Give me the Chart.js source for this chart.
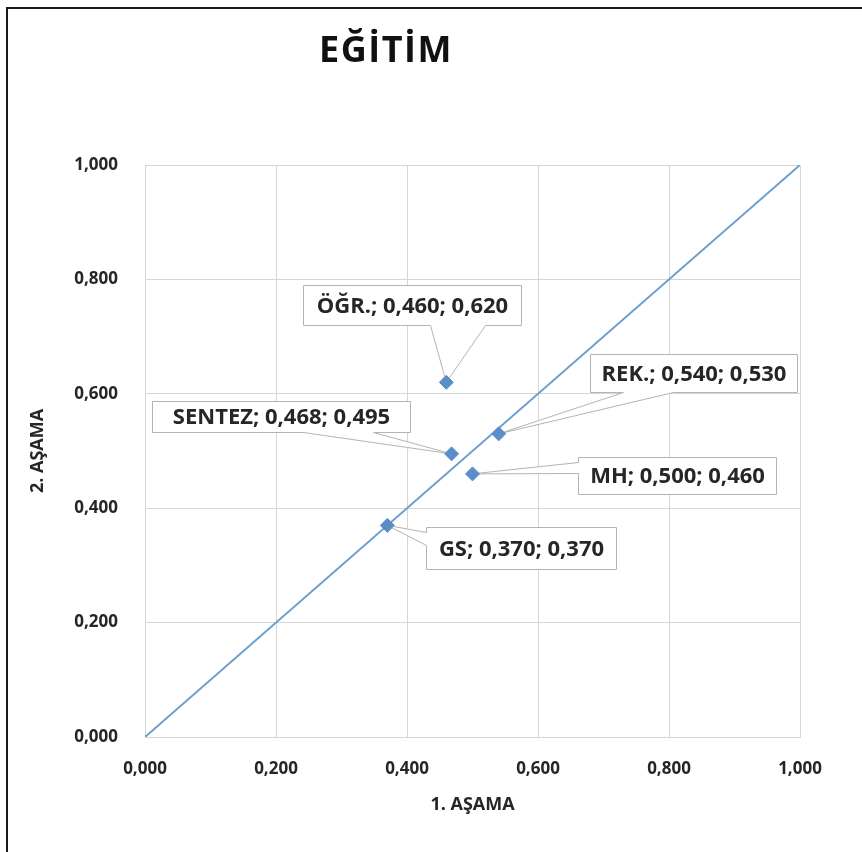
<!DOCTYPE html>
<html>
<head>
<meta charset="utf-8">
<script src="https://cdn.jsdelivr.net/npm/chart.js@4"></script>
<style>
  html, body { margin: 0; padding: 0; background: #fff; }
  canvas { display: block; }
</style>
</head>
<body>
<canvas id="chart" width="862" height="852"></canvas>
<script>
// data
const labels = ["ÖĞR.", "SENTEZ", "REK.", "MH", "GS"];
const stage1 = [0.460, 0.468, 0.540, 0.500, 0.370];
const stage2 = [0.620, 0.495, 0.530, 0.460, 0.370];
const refLine = [{ x: 0, y: 0 }, { x: 1, y: 1 }];
const tickValues = [0, 0.2, 0.4, 0.6, 0.8, 1];

// callout boxes, relative to the marker pixel (layout only)
// box: dx, dy, w, h ; side + wedge base offsets along that side
const callouts = [
  { dx: -143, dy: -97, w: 218, h: 40, side: "bottom", a: 127, b: 182 },
  { dx: -300, dy: -53, w: 258, h: 31, side: "bottom", a: 151, b: 221 },
  { dx: 91, dy: -80, w: 207, h: 38, side: "bottom", a: 33, b: 83 },
  { dx: 105, dy: -17, w: 198, h: 37, side: "left", a: 5, b: 16 },
  { dx: 39, dy: 2, w: 190, h: 42, side: "left", a: 5, b: 18 }
];

const fmt = v => Number(v).toFixed(3).replace(".", ",");

const frame = {
  id: "frame",
  beforeDraw(chart) {
    const ctx = chart.ctx;
    ctx.save();
    ctx.fillStyle = "#fff";
    ctx.fillRect(0, 0, chart.width, chart.height);
    ctx.fillStyle = "#1a1a1a";
    ctx.fillRect(6, 7, 2, chart.height - 7);
    ctx.fillRect(6, 7, chart.width - 6, 2);
    // title
    ctx.fillStyle = "#111";
    ctx.font = "bold 36px 'Open Sans'";
    ctx.letterSpacing = "1.5px";
    ctx.textAlign = "center";
    ctx.textBaseline = "alphabetic";
    ctx.fillText("EĞİTİM", 386, 62);
    ctx.restore();
  }
};

const calloutPlugin = {
  id: "callouts",
  beforeDatasetsDraw(chart) {
    const ctx = chart.ctx;
    const xs = chart.scales.x, ys = chart.scales.y;
    ctx.save();
    labels.forEach((name, i) => {
      const c = callouts[i];
      const px = xs.getPixelForValue(stage1[i]);
      const py = ys.getPixelForValue(stage2[i]);
      const l = Math.round(px + c.dx) + 0.5, t = Math.round(py + c.dy) + 0.5;
      const r = l + c.w, btm = t + c.h;
      ctx.beginPath();
      ctx.moveTo(l, t);
      ctx.lineTo(r, t);
      ctx.lineTo(r, btm);
      if (c.side === "bottom") {
        ctx.lineTo(l + c.b, btm);
        ctx.lineTo(px, py);
        ctx.lineTo(l + c.a, btm);
        ctx.lineTo(l, btm);
      } else {
        ctx.lineTo(l, btm);
        ctx.lineTo(l, t + c.b);
        ctx.lineTo(px, py);
        ctx.lineTo(l, t + c.a);
      }
      ctx.closePath();
      ctx.fillStyle = "#fff";
      ctx.fill();
      ctx.strokeStyle = "#b4b4b4";
      ctx.lineWidth = 1;
      ctx.stroke();

      ctx.fillStyle = "#262626";
      ctx.font = "bold 22px 'Open Sans'";
      ctx.textAlign = "center";
      ctx.textBaseline = "middle";
      ctx.fillText(name + "; " + fmt(stage1[i]) + "; " + fmt(stage2[i]), l + c.w / 2, t + c.h / 2 + 1);
    });
    ctx.restore();
  }
};

const tickFont = { family: "'Open Sans'", size: 17, weight: "bold" };
const titleFont = { family: "'Open Sans'", size: 18, weight: "bold" };

new Chart(document.getElementById("chart"), {
  type: "scatter",
  data: {
    datasets: [
      {
        label: "EĞİTİM",
        data: stage1.map((x, i) => ({ x, y: stage2[i] })),
        pointStyle: "rectRot",
        pointRadius: 7,
        backgroundColor: "#5b8ec9",
        borderColor: "#5b8ec9",
        borderWidth: 1
      },
      {
        type: "line",
        label: "ref",
        data: refLine,
        borderColor: "#6a9fcf",
        borderWidth: 2,
        pointRadius: 0,
        fill: false
      }
    ]
  },
  options: {
    responsive: false,
    animation: false,
    layout: { padding: { left: 0, top: 165, right: 62, bottom: 0 } },
    plugins: { legend: { display: false }, tooltip: { enabled: false } },
    scales: {
      x: {
        type: "linear",
        min: 0, max: 1,
        afterFit: s => { s.height = 115; },
        afterBuildTicks: s => { s.ticks = tickValues.map(v => ({ value: v })); },
        grid: { color: "#d6d6d6", drawTicks: false },
        border: { color: "#d6d6d6" },
        ticks: { color: "#262626", font: tickFont, padding: 22, callback: fmt, maxRotation: 0 },
        title: { display: true, text: "1. AŞAMA", color: "#262626", font: titleFont, padding: { top: 0, bottom: 36 } }
      },
      y: {
        type: "linear",
        min: 0, max: 1,
        afterFit: s => { s.width = 145; },
        afterBuildTicks: s => { s.ticks = tickValues.map(v => ({ value: v })); },
        grid: { color: "#d6d6d6", drawTicks: false },
        border: { color: "#d6d6d6" },
        ticks: { color: "#262626", font: tickFont, padding: 27, callback: fmt },
        title: { display: true, text: "2. AŞAMA", color: "#262626", font: titleFont, padding: { top: 27, bottom: 0 } }
      }
    }
  },
  plugins: [frame, calloutPlugin]
});
</script>
</body>
</html>
